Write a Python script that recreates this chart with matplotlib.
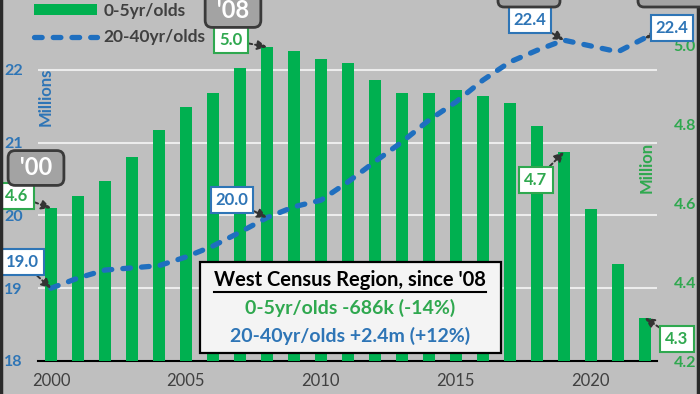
import matplotlib
matplotlib.use('Agg')
import matplotlib.pyplot as plt
from matplotlib.patches import Rectangle, Patch, FancyBboxPatch
from matplotlib.lines import Line2D
from matplotlib.transforms import IdentityTransform

plt.rcParams['font.family'] = ['Lato', 'DejaVu Sans']

years = list(range(2000, 2023))
kids_0_5 = [4.587, 4.618, 4.655, 4.716, 4.785, 4.843, 4.878, 4.942, 4.995, 4.985,
            4.965, 4.955, 4.911, 4.878, 4.878, 4.886, 4.871, 4.853, 4.795, 4.729,
            4.585, 4.446, 4.309]
adults_20_40 = [19.00, 19.14, 19.25, 19.28, 19.31, 19.43, 19.58, 19.77, 19.97, 20.12,
                20.21, 20.46, 20.74, 21.01, 21.31, 21.56, 21.86, 22.11, 22.27, 22.41,
                22.33, 22.25, 22.44]
left_ticks = [18, 19, 20, 21, 22]
right_ticks = [4.2, 4.4, 4.6, 4.8, 5.0]
x_ticks = [2000, 2005, 2010, 2015, 2020]
legend_labels = ['0-5yr/olds', '20-40yr/olds']
box_title = "West Census Region, since '08"
box_line1 = "0-5yr/olds -686k (-14%)"
box_line2 = "20-40yr/olds +2.4m (+12%)"

GREEN = '#00b050'
GREEN_T = '#2fa84f'
BLUE = '#1f6fbf'
BLUE_T = '#2e75b6'
GRAY_T = '#404040'
BG = '#bfbfbf'

W, H = 700, 394
fig = plt.figure(figsize=(7.0, 3.94), dpi=100)
fig.patch.set_facecolor(BG)

def fp(x, y):
    return (x / W, 1 - y / H)

ax_l, ax_r, ax_b, ax_t = 38, 657, 361, 0
ax = fig.add_axes([ax_l / W, 1 - ax_b / H, (ax_r - ax_l) / W, (ax_b - ax_t) / H])
ax.set_facecolor(BG)
ax2 = ax.twinx()
ax3 = ax.twinx()

xlim = (1999.52, 2022.45)
for a in (ax, ax2, ax3):
    a.set_xlim(*xlim)
    for s in ('top', 'left', 'right', 'bottom'):
        a.spines[s].set_visible(False)
ax.spines['bottom'].set_visible(True)
ax.spines['bottom'].set_color('black')
ax.spines['bottom'].set_linewidth(1.5)

ax.set_ylim(18, 22.962)
ax3.set_ylim(18, 22.962)
ax2.set_ylim(4.2, 5.114)

ax.set_yticks(left_ticks)
ax.set_yticklabels([str(v) for v in left_ticks])
ax.tick_params(axis='y', length=0, pad=11, labelcolor=BLUE_T, labelsize=11.5)
for t in ax.get_yticklabels():
    t.set_fontweight('bold')
ax.grid(axis='y', color='#ececec', linewidth=1.5)
ax.set_axisbelow(True)

ax.set_xticks(x_ticks)
ax.set_xticklabels([str(v) for v in x_ticks])
ax.tick_params(axis='x', length=0, pad=9, labelcolor=GRAY_T, labelsize=12)

ax2.set_yticks(right_ticks)
ax2.set_yticklabels([f'{v:.1f}' for v in right_ticks])
ax2.tick_params(axis='y', length=0, pad=12, labelcolor=GREEN_T, labelsize=11.5)
for t in ax2.get_yticklabels():
    t.set_fontweight('bold')
ax3.set_yticks([])
ax3.tick_params(axis='x', length=0, labelbottom=False)
ax2.tick_params(axis='x', length=0, labelbottom=False)

ax2.bar(years, kids_0_5, width=0.42, color=GREEN, zorder=2)
line, = ax3.plot(years, adults_20_40, color=BLUE, linewidth=3.8,
                 dash_capstyle='round', zorder=3)
line.set_dashes((1.45, 2.1))

# axis titles
fig.text(*fp(46, 97), 'Millions', rotation=90, color=BLUE_T, fontsize=12,
         fontweight='bold', ha='center', va='center')
fig.text(*fp(647, 167), 'Million', rotation=90, color=GREEN_T, fontsize=12,
         fontweight='bold', ha='center', va='center')

# legend
h1 = Patch(facecolor=GREEN, edgecolor='none')
h2 = Line2D([0], [0], color=BLUE, linewidth=3.8, dash_capstyle='round', dashes=(1.45, 2.1))
leg = fig.legend([h1, h2], legend_labels, loc='upper left',
                 bbox_to_anchor=fp(34, 3), frameon=False, handlelength=3.6,
                 handleheight=0.6, handletextpad=0.4, labelspacing=0.6,
                 borderpad=0, borderaxespad=0,
                 prop={'family': ['Lato', 'DejaVu Sans'], 'weight': 'bold', 'size': 12.5})
for t in leg.get_texts():
    t.set_color(GRAY_T)

# gray year boxes
def year_box(x, y, s):
    fig.text(*fp(x, y), s, ha='center', va='center', color='white', fontsize=17,
             fontweight='bold', zorder=6,
             bbox=dict(boxstyle='round,pad=0.25,rounding_size=0.3', facecolor='#a3a3a3',
                       edgecolor='#3a3a3a', linewidth=2))

year_box(36, 168, " '00 ")
year_box(233, 10, " '08 ")

# partially visible year boxes cut by the top edge (no visible text)
for x0, x1 in ((498, 560), (638, 712)):
    fig.add_artist(FancyBboxPatch((x0, H - 7), x1 - x0, 30,
                                  boxstyle='round,pad=0,rounding_size=6',
                                  transform=IdentityTransform(), facecolor='#a3a3a3',
                                  edgecolor='#3a3a3a', linewidth=2, zorder=6))

arrow_kw = dict(arrowstyle='-|>', color='#333333', linewidth=1.4, linestyle=(0, (2, 1.5)),
                mutation_scale=14, shrinkA=0, shrinkB=0)

def label(axis, xi, val, pos, txt, color):
    axis.annotate(txt, xy=(years[xi], val), xycoords='data',
                  xytext=fp(*pos), textcoords='figure fraction',
                  ha='center', va='center', color=color, fontsize=12, fontweight='bold',
                  bbox=dict(boxstyle='square,pad=0.3', facecolor='white', edgecolor=color,
                            linewidth=1.5),
                  arrowprops=arrow_kw, zorder=8, annotation_clip=False)

# bar labels (0-5)
label(ax2, 0, kids_0_5[0], (17, 196), f'{kids_0_5[0]:.1f}', GREEN_T)
label(ax2, 8, kids_0_5[8], (231, 40), f'{kids_0_5[8]:.1f}', GREEN_T)
label(ax2, 19, kids_0_5[19], (536, 180), f'{kids_0_5[19]:.1f}', GREEN_T)
label(ax2, 22, kids_0_5[22], (677, 339), f'{kids_0_5[22]:.1f}', GREEN_T)
# line labels (20-40)
label(ax3, 0, adults_20_40[0], (22, 262), f'{adults_20_40[0]:.1f}', BLUE_T)
label(ax3, 8, adults_20_40[8], (232, 200), f'{adults_20_40[8]:.1f}', BLUE_T)
label(ax3, 19, adults_20_40[19], (530, 20), f'{adults_20_40[19]:.1f}', BLUE_T)
label(ax3, 22, adults_20_40[22], (672, 28), f'{adults_20_40[22]:.1f}', BLUE_T)

# summary box
bx0, by0, bx1, by1 = 200, 262, 501, 353
fig.patches.append(Rectangle(fp(bx0, by1), (bx1 - bx0) / W, (by1 - by0) / H,
                             transform=fig.transFigure, facecolor='#f4f4f4',
                             edgecolor='black', linewidth=1.6, zorder=9))
tt = fig.text(*fp(350, 280), box_title, ha='center', va='center', color='black',
              fontsize=14.5, fontweight='bold', zorder=10)
fig.text(*fp(350, 308), box_line1, ha='center', va='center', color=GREEN_T,
         fontsize=14, fontweight='bold', zorder=10)
fig.text(*fp(350, 336), box_line2, ha='center', va='center', color=BLUE_T,
         fontsize=14, fontweight='bold', zorder=10)

# figure side borders
fig.add_artist(Line2D([0.001, 0.001], [0, 1], transform=fig.transFigure, color='#2a2a2a', linewidth=2.5))
fig.add_artist(Line2D([0.997, 0.997], [0, 1], transform=fig.transFigure, color='#2a2a2a', linewidth=2.5))

fig.canvas.draw()
bb = tt.get_window_extent().transformed(fig.transFigure.inverted())
fig.add_artist(Line2D([bb.x0, bb.x1], [bb.y0 - 0.004, bb.y0 - 0.004], transform=fig.transFigure,
                      color='black', linewidth=1.5, zorder=10))

fig.savefig('out.png', dpi=100, facecolor=BG)
